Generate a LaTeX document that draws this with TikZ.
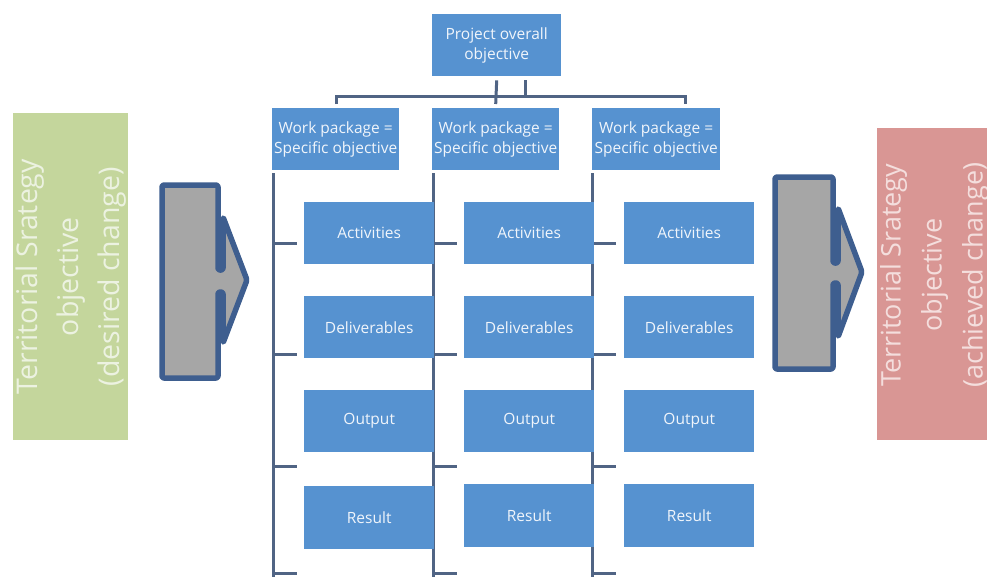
\documentclass[tikz,border=0pt]{standalone}
\usepackage{fontspec}
\setmainfont{Open Sans}
\usetikzlibrary{calc}
\definecolor{boxblue}{RGB}{86,146,208}
\definecolor{boxtext}{RGB}{240,245,251}
\definecolor{lnclr}{RGB}{80,100,132}
\definecolor{arrgray}{RGB}{166,166,166}
\definecolor{arrstroke}{RGB}{62,94,143}
\definecolor{sgreen}{RGB}{196,214,156}
\definecolor{sgreentext}{RGB}{236,242,225}
\definecolor{sred}{RGB}{217,150,148}
\definecolor{sredtext}{RGB}{244,222,221}
\pgfdeclarelayer{bg}
\pgfdeclarelayer{paper}
\pgfsetlayers{paper,bg,main}
\tikzset{
  bluebox/.style={fill=boxblue, text=boxtext, anchor=north west, inner sep=0pt,
    minimum height=62pt, align=center, font=\fontsize{15.5}{20}\selectfont},
  subbox/.style={bluebox, minimum width=130pt},
  wpbox/.style={bluebox, minimum width=127pt},
  ln/.style={draw=lnclr, line width=3pt},
  sidebox/.style={anchor=north west, inner sep=0pt, minimum width=115pt, minimum height=327pt},
  sidetext/.style={rotate=90, align=center, inner sep=0pt},
  arrowshape/.style={fill=arrgray, draw=arrstroke, line width=5.5pt, line join=round, rounded corners=2pt}
}
\begin{document}
\begin{tikzpicture}[x=1pt,y=-1pt]
\useasboundingbox (0,0) rectangle (987,576);
\begin{pgfonlayer}{paper}
\fill[white] (0,0) rectangle (987,576);
\end{pgfonlayer}
\clip (0,0) rectangle (987,576);

% side boxes
\node[sidebox, fill=sgreen] (gbox) at (13,113) {};
\node[sidetext, text=sgreentext, font=\fontsize{28.5}{41}\selectfont] (gtext) at (gbox.center)
  {Territorial Srategy\\objective\\(desired change)};
\node[sidebox, fill=sred, minimum height=312pt] (rbox) at (877,128) {};
\node[sidetext, text=sredtext, font=\fontsize{27}{41}\selectfont] (rtext) at ($(rbox.center)+(0,-9)$)
  {Territorial Srategy\\objective\\(achieved change)};

% arrows
\draw[arrowshape] (162,185) -- (218,185) -- (218,270) -- (223,270) -- (223,217) -- (247,280)
  -- (223,343) -- (223,292) -- (218,292) -- (218,378) -- (162,378) -- cycle;
\draw[arrowshape] (775,177) -- (833,177) -- (833,263) -- (838,263) -- (838,208) -- (862,272)
  -- (838,337) -- (838,283) -- (833,283) -- (833,369) -- (775,369) -- cycle;

% top box
\node[bluebox, minimum width=129pt] (top) at (432,14) {Project overall\\objective};

% work packages
\node[wpbox] (wp1) at (272,108) {Work package =\\Specific objective};
\node[wpbox] (wp2) at (432,108) {Work package =\\Specific objective};
\node[wpbox, minimum width=128pt] (wp3) at (592,108) {Work package =\\Specific objective};

% sub boxes
\foreach \c/\x/\ry in {1/304/486, 2/464/484, 3/624/484}{
  \node[subbox] (act\c) at (\x,202) {Activities};
  \node[subbox] (del\c) at (\x,296) {Deliverables};
  \node[subbox] (out\c) at (\x,390) {Output};
  \node[subbox, minimum height=63pt] (res\c) at (\x,\ry) {Result};
}

% connectors
\coordinate (b1) at (336,96);
\coordinate (b3) at (685,96);
\coordinate (s2) at (525,96);
\begin{pgfonlayer}{bg}
  \draw[ln] (top.south) ++(0,4) -- ($(wp2.north)+(0,-4)$);
  \draw[ln] (s2 |- top.south) ++(0,4) -- (s2);
  \draw[ln] (b1 |- wp1.north) ++(0,-4) -- (b1) -- (b3) -- ++(0,8);
  \foreach \c/\lx in {1/273, 2/433, 3/592}{
    \coordinate (v\c) at (\lx,173);
    \draw[ln] (v\c) -- (\lx,580);
    \foreach \ty in {243,354,466,573}{
      \draw[ln] (\lx,\ty) -- ++(24,0);
    }
  }
\end{pgfonlayer}
\end{tikzpicture}
\end{document}
